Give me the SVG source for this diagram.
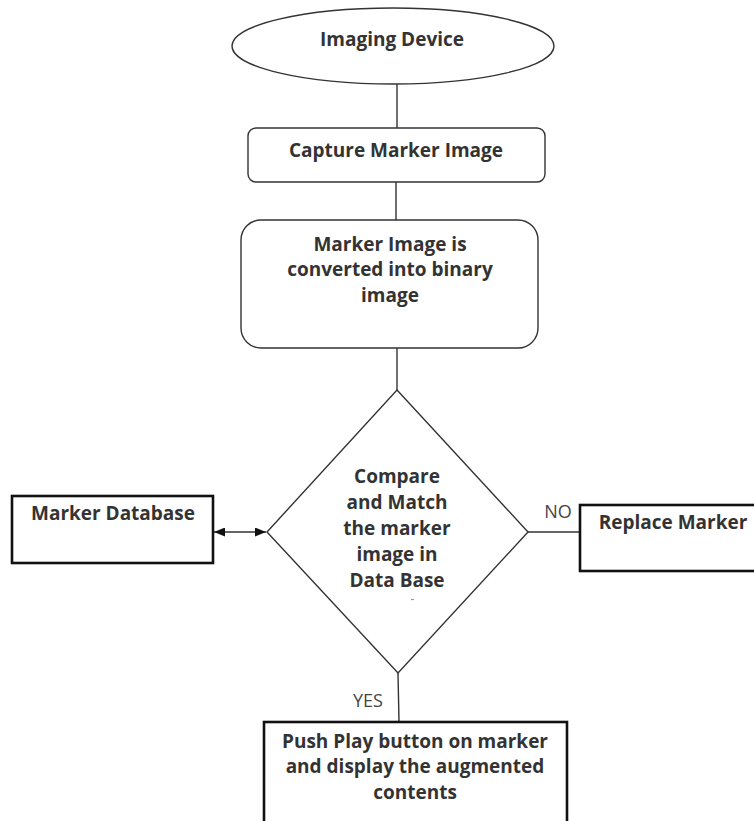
<svg xmlns="http://www.w3.org/2000/svg" width="754" height="821" viewBox="0 0 754 821">
<style>
.t{font-family:"Open Sans","Liberation Sans",sans-serif;font-weight:700;font-size:19px;fill:#333;text-anchor:middle}
.l{font-family:"Open Sans","Liberation Sans",sans-serif;font-weight:400;font-size:18px;fill:#444;text-anchor:middle}
.thin{fill:#fff;stroke:#333;stroke-width:1.4}
.thick{fill:#fff;stroke:#111;stroke-width:2.6}
.c{fill:none;stroke:#333;stroke-width:1.4}
</style>
<defs>
<marker id="ah" viewBox="0 0 11 9" refX="11" refY="4.5" markerWidth="11" markerHeight="9" markerUnits="userSpaceOnUse" orient="auto-start-reverse">
<path d="M0,0 L11,4.5 L0,9 Z" fill="#111"/>
</marker>
</defs>
<rect width="754" height="821" fill="#fff"/>
<g id="connectors">
<line class="c" x1="397" y1="84" x2="397" y2="128"/>
<line class="c" x1="396" y1="182" x2="396" y2="220"/>
<line class="c" x1="397" y1="348" x2="397" y2="390"/>
<line class="c" x1="398" y1="673" x2="399" y2="722"/>
<line class="c" x1="528" y1="532" x2="580" y2="532"/>
<line class="c" x1="214" y1="532" x2="266" y2="532" stroke="#111" marker-start="url(#ah)" marker-end="url(#ah)"/>
<text class="l" x="558" y="518">NO</text>
<text class="l" x="368" y="707">YES</text>
</g>
<g id="imaging-device">
<ellipse class="thin" cx="393" cy="46" rx="161" ry="38"/>
<text class="t" x="392" y="46">Imaging Device</text>
</g>
<g id="capture">
<rect class="thin" x="248" y="128" width="297" height="54" rx="8"/>
<text class="t" x="396" y="157">Capture Marker Image</text>
</g>
<g id="binary">
<rect class="thin" x="241" y="220" width="297" height="128" rx="20"/>
<text class="t" x="390" y="251">Marker Image is</text>
<text class="t" x="390" y="276">converted into binary</text>
<text class="t" x="390" y="302">image</text>
</g>
<g id="compare">
<polygon class="thin" points="397,390 528,532 398,673 267,532"/>
<text class="t" x="397" y="483">Compare</text>
<text class="t" x="397" y="509">and Match</text>
<text class="t" x="397" y="535">the marker</text>
<text class="t" x="397" y="561">image in</text>
<text class="t" x="397" y="587">Data Base</text>
<line x1="411" y1="599.5" x2="414" y2="599.5" stroke="#999" stroke-width="1.2"/>
</g>
<g id="marker-database">
<rect class="thick" x="12" y="496" width="201" height="67"/>
<text class="t" x="113" y="520">Marker Database</text>
</g>
<g id="replace-marker">
<rect class="thick" x="580" y="505" width="180" height="66"/>
<text class="t" x="673" y="529">Replace Marker</text>
</g>
<g id="push-play">
<rect class="thick" x="264" y="722" width="303" height="120"/>
<text class="t" x="415" y="748">Push Play button on marker</text>
<text class="t" x="415" y="773">and display the augmented</text>
<text class="t" x="415" y="799">contents</text>
</g>
</svg>
